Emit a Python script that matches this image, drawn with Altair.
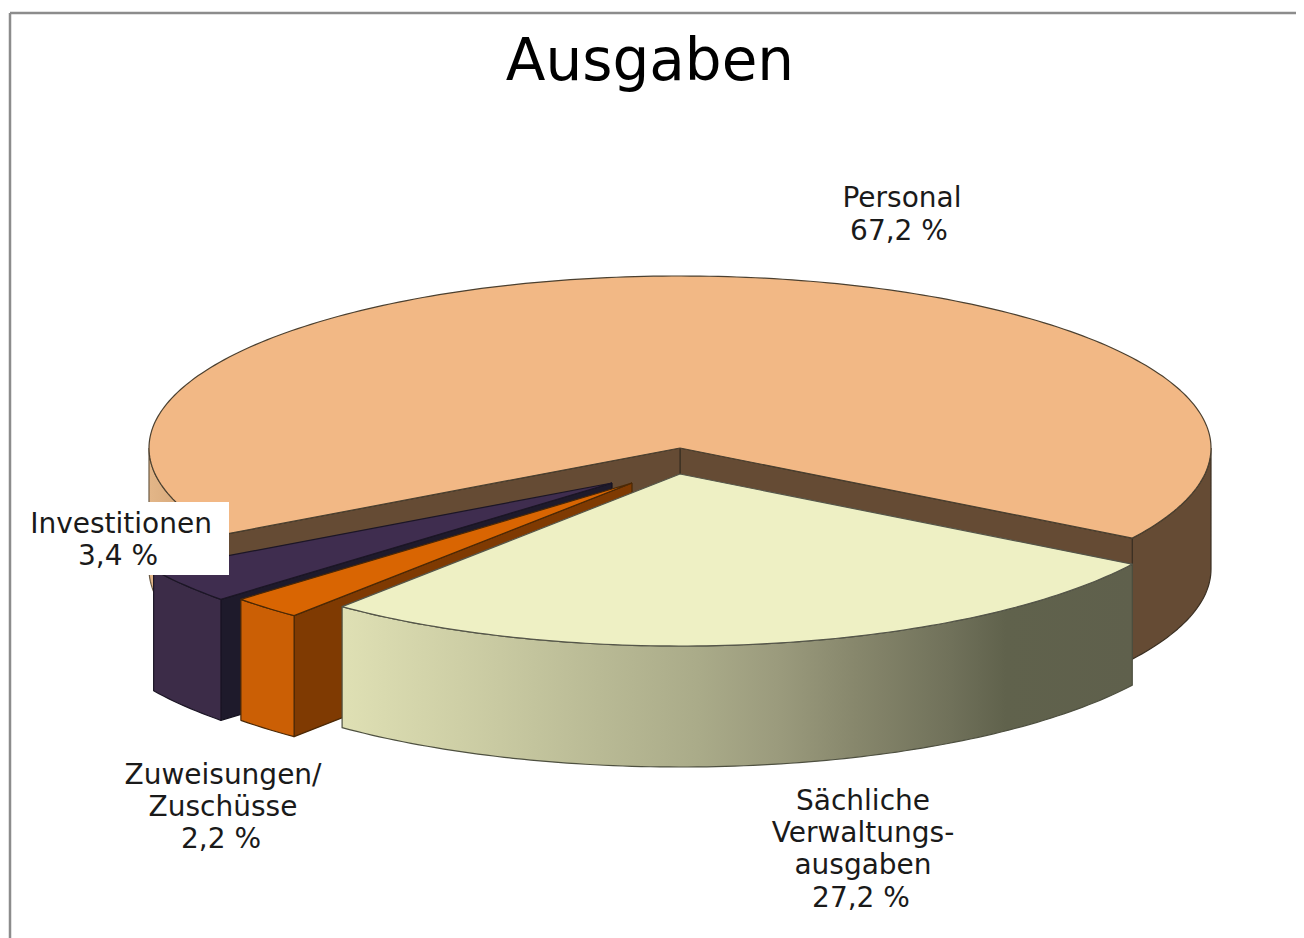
import math
import altair as alt
import pandas as pd

# ---- values ----
names = ["Personal", "Sächliche Verwaltungsausgaben", "Zuweisungen/Zuschüsse", "Investitionen"]
shares = [67.2, 27.2, 2.2, 3.4]

title = "Ausgaben"
label_lines = [
    ("Personal", 902, 198), ("67,2 %", 899, 231),
    ("Sächliche", 863, 801), ("Verwaltungs-", 863, 833), ("ausgaben", 863, 865), ("27,2 %", 861, 898),
    ("Zuweisungen/", 223, 775), ("Zuschüsse", 223, 807), ("2,2 %", 221, 839),
    ("Investitionen", 121, 524), ("3,4 %", 118, 556),
]

# ---- layout of the drawing (reference pixels) ----
CX, CY, RX, RY, DEPTH = 680, 448, 531, 172, 121
START = 31.6  # degrees below the horizontal, clockwise on screen
OFF_SACH = (0, 26)
OFF_ZUW = (-48, 35)
OFF_INV = (-68, 35)
W, H = 1288, 930

a_sach_end = START + shares[1] * 3.6
a_zuw_end = a_sach_end + shares[2] * 3.6
a_inv_end = a_zuw_end + shares[3] * 3.6


def rim(a, off=(0, 0), dy=0):
    t = math.radians(a)
    return (CX + off[0] + RX * math.cos(t), CY + off[1] + RY * math.sin(t) + dy)


def arc(a0, a1, off=(0, 0), dy=0, n=None):
    n = n or max(2, int(abs(a1 - a0)))
    return [rim(a0 + (a1 - a0) * i / n, off, dy) for i in range(n + 1)]


xs = alt.Scale(domain=[8, 8 + W], range=[0, W])
ys = alt.Scale(domain=[8, 8 + H], range=[0, H])
X = lambda f, **k: alt.X(f, type="quantitative", scale=xs, axis=None, **k)
Y = lambda f, **k: alt.Y(f, type="quantitative", scale=ys, axis=None, **k)


def poly(points, fill, stroke, sw=1.2):
    pts = list(points) + [points[0]]
    df = pd.DataFrame({"px": [p[0] for p in pts], "py": [p[1] for p in pts], "i": range(len(pts))})
    return alt.Chart(df).mark_line(fill=fill, stroke=stroke, strokeWidth=sw, strokeJoin="round", interpolate="linear").encode(
        x=X("px"), y=Y("py"), order=alt.Order("i:Q")
    )


def top(a0, a1, off, fill, stroke):
    apex = (CX + off[0], CY + off[1])
    return poly([apex] + arc(a0, a1, off), fill, stroke)


def side(a0, a1, off, fill, stroke):
    return poly(arc(a0, a1, off) + arc(a1, a0, off, DEPTH), fill, stroke)


def wall(a, off, fill, stroke):
    apex = (CX + off[0], CY + off[1])
    r = rim(a, off)
    return poly([apex, r, (r[0], r[1] + DEPTH), (apex[0], apex[1] + DEPTH)], fill, stroke)


DARK = "#3a2f22"
ZERO = (0, 0)

sach_grad = alt.Gradient(
    gradient="linear", x1=0, x2=1, y1=0, y2=0,
    stops=[
        alt.GradientStop(offset=0.0, color="#dfe0b4"),
        alt.GradientStop(offset=0.20, color="#c8c9a1"),
        alt.GradientStop(offset=0.45, color="#aaab89"),
        alt.GradientStop(offset=0.55, color="#9b9b7d"),
        alt.GradientStop(offset=0.65, color="#87876c"),
        alt.GradientStop(offset=0.77, color="#70715a"),
        alt.GradientStop(offset=0.84, color="#60624c"),
        alt.GradientStop(offset=1.0, color="#5f604c"),
    ],
)
tan_grad = alt.Gradient(
    gradient="linear", x1=0, x2=1, y1=0, y2=0,
    stops=[alt.GradientStop(offset=0, color="#e3b688"), alt.GradientStop(offset=1, color="#c99a6c")],
)

layers = [
    # Personal
    side(180, a_inv_end, ZERO, tan_grad, "#6b5a44"),
    side(0, START, ZERO, "#654b34", DARK),
    wall(START, ZERO, "#654b34", DARK),
    wall(a_inv_end, ZERO, "#654b34", DARK),
    top(a_inv_end, 360 + START, ZERO, "#f2b885", "#4b4030"),
    # Investitionen
    wall(a_zuw_end, OFF_INV, "#1e1a2b", "#15121f"),
    side(a_zuw_end, a_inv_end, OFF_INV, "#3c2c48", "#1c1626"),
    top(a_zuw_end, a_inv_end, OFF_INV, "#3f2d4f", "#1c1626"),
    # Zuweisungen/Zuschüsse
    wall(a_sach_end, OFF_ZUW, "#7f3a02", "#4a2806"),
    side(a_sach_end, a_zuw_end, OFF_ZUW, "#cb5f05", "#4a2806"),
    top(a_sach_end, a_zuw_end, OFF_ZUW, "#d96502", "#4a2806"),
    # Sächliche Verwaltungsausgaben
    side(START, a_sach_end, OFF_SACH, sach_grad, "#4e5040"),
    top(START, a_sach_end, OFF_SACH, "#eef0c4", "#55564a"),
]

# white box behind the Investitionen label
box = pd.DataFrame({"x0": [20], "x1": [229], "y0": [502], "y1": [575]})
layers.append(alt.Chart(box).mark_rect(fill="white").encode(
    x=X("x0"), x2="x1", y=Y("y0"), y2="y1"))

# frame lines
frame = pd.DataFrame({"x0": [10, 10], "x1": [10, 8 + W], "y0": [13, 13], "y1": [8 + H, 13]})
layers.append(alt.Chart(frame).mark_rule(color="#8c8c8c", strokeWidth=2.5).encode(
    x=X("x0"), x2="x1", y=Y("y0"), y2="y1"))

# texts
lab = pd.DataFrame(label_lines, columns=["t", "lx", "ly"])
layers.append(alt.Chart(lab).mark_text(font="DejaVu Sans", fontSize=28, color="#1a1a1a", baseline="middle", align="center", dy=1).encode(
    x=X("lx"), y=Y("ly"), text="t:N"))
tt = pd.DataFrame({"t": [title], "lx": [650], "ly": [62]})
layers.append(alt.Chart(tt).mark_text(font="DejaVu Sans", fontSize=58, color="#000000", baseline="middle", align="center", dy=1).encode(
    x=X("lx"), y=Y("ly"), text="t:N"))

chart = alt.layer(*layers).properties(
    width=W, height=H, padding=0, autosize=alt.AutoSizeParams(type="none"), background="white"
).configure_view(stroke=None)

chart.save("out.html", embed_options={"renderer": "svg", "actions": False})
